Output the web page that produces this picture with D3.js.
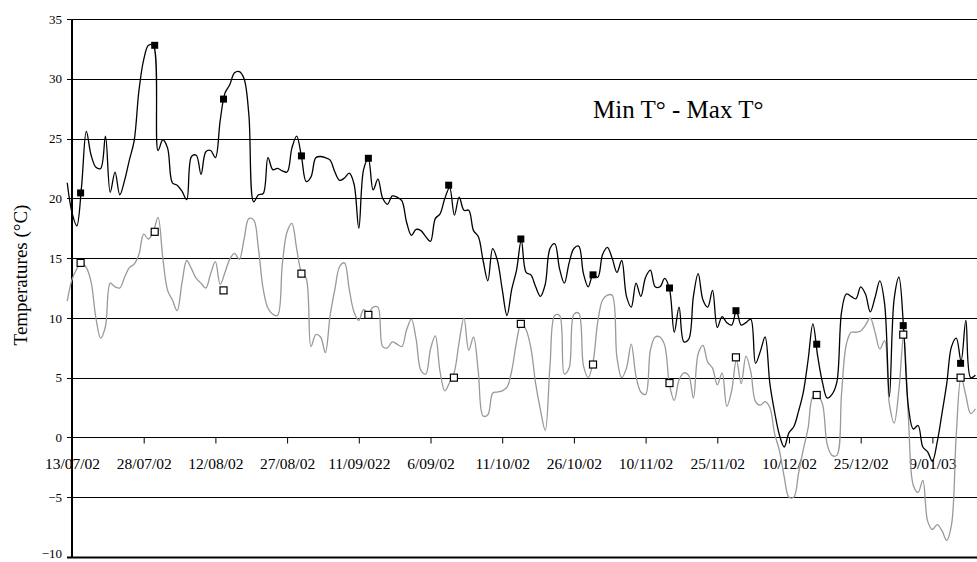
<!DOCTYPE html>
<html>
<head>
<meta charset="utf-8">
<script src="https://cdn.jsdelivr.net/npm/d3@7"></script>
<style>
  body { margin: 0; background: #fff; }
  text { font-family: "Liberation Serif", "Times New Roman", serif; fill: #000; }
</style>
</head>
<body>
<svg id="chart" width="977" height="562"></svg>
<script>
// ======= daily min / max temperatures, 13/07/02 -> mid Jan 03 =======

// category labels of the x axis, one every 15 days
const tickLabels = ['13/07/02', '28/07/02', '12/08/02', '27/08/02', '11/09/022', '6/09/02',
  '11/10/02', '26/10/02', '10/11/02', '25/11/02', '10/12/02', '25/12/02', '9/01/03']
const tickDays = [0, 15, 30, 45, 60, 75, 90, 105, 120, 135, 150, 165, 180]

const yTicks = [-10, -5, 0, 5, 10, 15, 20, 25, 30, 35]

// first value is the day before 13/07/02
const firstDay = -1

const maxT = [
  21.3, 18.8, 17.7, 21.0, 25.6, 23.6, 22.6, 22.5, 25.2, 20.5,
  22.2, 20.3, 21.5, 23.2, 24.8, 29.0, 31.6, 32.8, 32.8, 24.0,
  24.9, 24.2, 21.3, 21.1, 20.6, 19.9, 23.5, 23.6, 22.0, 23.9,
  24.0, 23.4, 26.5, 28.8, 29.5, 30.5, 30.6, 30.0, 27.0, 19.7,
  20.3, 20.4, 23.4, 22.4, 22.5, 22.3, 22.2, 24.2, 25.2, 23.5,
  21.4, 21.8, 23.4, 23.5, 23.4, 23.2, 22.2, 21.5, 21.7, 22.1,
  21.2, 17.5, 22.4, 23.3, 20.7, 21.6, 20.0, 19.5, 20.2, 20.1,
  19.8, 18.0, 16.9, 17.4, 17.3, 16.8, 16.4, 18.3, 18.7, 20.0,
  20.9, 18.6, 20.1, 19.0, 19.0, 17.3, 16.8, 14.8, 13.1, 15.8,
  14.8, 12.4, 10.2, 12.4, 14.0, 16.5, 13.8, 13.6, 12.6, 11.8,
  12.8, 15.8, 16.2, 14.1, 12.9, 14.6, 15.8, 16.0, 13.7, 12.6,
  13.6, 13.4, 15.3, 15.9, 15.0, 13.8, 14.8, 11.8, 10.9, 12.9,
  11.8, 13.4, 14.0, 12.6, 12.6, 13.3, 12.4, 8.8, 10.9, 8.0,
  8.2, 11.8, 13.7, 11.5, 10.9, 12.3, 9.2, 10.1, 9.6, 9.4,
  10.6, 9.4, 9.6, 9.9, 6.2, 7.2, 8.4, 4.5, 2.1, 0.2,
  -0.8, 0.4, 0.9, 2.2, 3.8, 6.5, 9.5, 6.8, 4.6, 3.3,
  3.6, 4.6, 10.5, 12.0, 11.8, 11.6, 12.6, 12.0, 10.5, 11.7,
  13.1, 11.2, 3.4, 11.6, 13.4, 9.0, 2.5, 0.7, 1.0, -0.8,
  -1.2, -2.0, -0.4, 2.0, 4.5, 7.6, 8.3, 6.4, 9.8, 5.0,
  5.2
]

const minT = [
  11.4, 13.2, 14.1, 14.6, 14.2, 13.0, 10.0, 8.3, 9.3, 12.9,
  12.6, 12.5, 13.4, 14.2, 14.5, 15.3, 17.0, 16.6, 17.2, 18.4,
  15.0, 12.3, 11.5, 10.6, 12.9, 14.8, 14.1, 13.3, 12.9, 12.5,
  13.7, 14.7, 12.8, 13.8, 14.9, 15.4, 14.9, 16.6, 18.3, 18.2,
  15.8, 12.4, 10.8, 10.3, 10.2, 14.5, 17.2, 17.9, 15.8, 13.8,
  13.3, 7.6, 8.6, 8.4, 7.1, 10.2, 12.4, 14.3, 14.6, 12.4,
  10.5, 9.8, 10.7, 10.4, 10.9, 10.9, 7.6, 7.5, 8.0, 7.8,
  7.6, 9.0, 9.9, 8.2, 5.6, 5.3, 7.4, 8.5, 5.5, 3.9,
  4.6, 5.5, 8.0, 10.0, 7.3, 8.4, 5.5, 1.8, 1.9, 3.7,
  3.8, 3.9, 4.2, 5.6, 8.0, 9.6, 9.0, 7.5, 4.5, 2.3,
  0.6, 6.0, 10.2, 10.2, 5.3, 5.8, 10.3, 10.4, 6.0, 5.0,
  6.3, 9.7, 11.5, 11.9, 11.9, 6.7, 5.0, 5.8, 7.8, 5.1,
  3.8, 3.6, 7.3, 8.4, 8.4, 7.7, 4.4, 3.1, 4.8, 5.4,
  5.2, 3.3, 7.0, 7.7, 6.3, 5.8, 4.4, 5.4, 2.6, 3.9,
  6.5, 4.5, 6.8, 5.5, 3.0, 2.7, 3.0, 2.5, 0.3, -1.1,
  -3.3, -5.0, -5.0, -3.0, -1.0, 0.8, 3.4, 3.5, 2.8, -0.6,
  -1.5, -1.5, 3.7, 7.8, 8.8, 8.8, 8.9, 9.4, 10.0, 8.8,
  7.4, 8.1, 2.8, 1.2, 4.0, 8.6, 1.5, -4.0, -4.6, -3.6,
  -7.0, -7.7, -7.3, -7.8, -8.6, -7.3, 0.3, 5.05, 3.5, 2.0,
  2.4
]

// square markers (period values)
const markMaxDays = [1.8, 17.3, 31.7, 48, 62, 78.8, 93.9, 109, 125, 138.9, 155.8, 173.9, 185.9]
const markMax = [20.45, 32.8, 28.3, 23.55, 23.35, 21.1, 16.6, 13.6, 12.5, 10.6, 7.8, 9.35, 6.2]
const markMinDays = [1.8, 17.3, 31.7, 48, 62, 79.9, 93.9, 109, 125, 138.9, 155.8, 173.9, 185.9]
const markMin = [14.6, 17.2, 12.3, 13.7, 10.25, 5.0, 9.5, 6.1, 4.55, 6.7, 3.55, 8.6, 5.0]

const margin = { top: 19, right: 0, bottom: 5, left: 72 }
const W = 977
const H = 562

const svg = d3.select('#chart')

const x = d3.scaleLinear()
  .domain([0, 180])
  .range([margin.left, margin.left + 180 * 4.78])

const y = d3.scaleLinear()
  .domain([-10, 35])
  .range([H - margin.bottom, margin.top])

// horizontal gridlines
svg.append('g')
  .selectAll('line')
  .data(yTicks)
  .join('line')
    .attr('x1', margin.left - 5)
    .attr('x2', W)
    .attr('y1', d => Math.round(y(d)) + 0.5)
    .attr('y2', d => Math.round(y(d)) + 0.5)
    .style('stroke', '#000')
    .style('stroke-width', d => d === -10 ? 2 : 1)

// y axis
const yAxis = d3.axisLeft(y).tickValues(yTicks).tickSize(0).tickPadding(10)
svg.append('g')
  .attr('transform', `translate(${margin.left}, 0)`)
  .call(yAxis)
  .call(g => g.select('.domain').remove())
  .call(g => g.selectAll('text').style('font-size', '13px').attr('font-family', null))
  .call(g => g.selectAll('.tick').filter(d => d === -10).select('text').attr('dy', '0.05em'))

svg.append('line')
  .attr('x1', margin.left).attr('x2', margin.left)
  .attr('y1', y(35)).attr('y2', y(-10) + 1)
  .style('stroke', '#000')
  .style('stroke-width', 2)

// x axis sits on the 0 line
const xAxis = d3.axisBottom(x)
  .tickValues(tickDays)
  .tickFormat((d, i) => tickLabels[i])
  .tickSize(6)
  .tickPadding(14)
svg.append('g')
  .attr('transform', `translate(0, ${Math.round(y(0)) + 0.5})`)
  .call(xAxis)
  .call(g => g.select('.domain').remove())
  .call(g => g.selectAll('line').style('stroke', '#000'))
  .call(g => g.selectAll('text').style('font-size', '15.5px').attr('font-family', null))

// titles
svg.append('text')
  .attr('transform', `translate(27, 275) rotate(-90)`)
  .attr('text-anchor', 'middle')
  .style('font-size', '19px')
  .text('Temperatures (°C)')

svg.append('text')
  .attr('x', 593)
  .attr('y', 118)
  .style('font-size', '25px')
  .text('Min T° - Max T°')

// daily lines
const line = d3.line()
  .x((d, i) => x(firstDay + i))
  .y(d => y(d))
  .curve(d3.curveCatmullRom)

svg.append('path')
  .datum(minT)
  .attr('d', line)
  .style('fill', 'none')
  .style('stroke', '#999')
  .style('stroke-width', 1.3)

svg.append('path')
  .datum(maxT)
  .attr('d', line)
  .style('fill', 'none')
  .style('stroke', '#000')
  .style('stroke-width', 1.3)

// markers
const sq = 7
svg.append('g')
  .selectAll('rect')
  .data(markMin)
  .join('rect')
    .attr('x', (d, i) => x(markMinDays[i]) - sq / 2)
    .attr('y', d => y(d) - sq / 2)
    .attr('width', sq)
    .attr('height', sq)
    .style('fill', '#fff')
    .style('stroke', '#000')
    .style('stroke-width', 1.2)

svg.append('g')
  .selectAll('rect')
  .data(markMax)
  .join('rect')
    .attr('x', (d, i) => x(markMaxDays[i]) - sq / 2)
    .attr('y', d => y(d) - sq / 2)
    .attr('width', sq)
    .attr('height', sq)
    .style('fill', '#000')
</script>
</body>
</html>
